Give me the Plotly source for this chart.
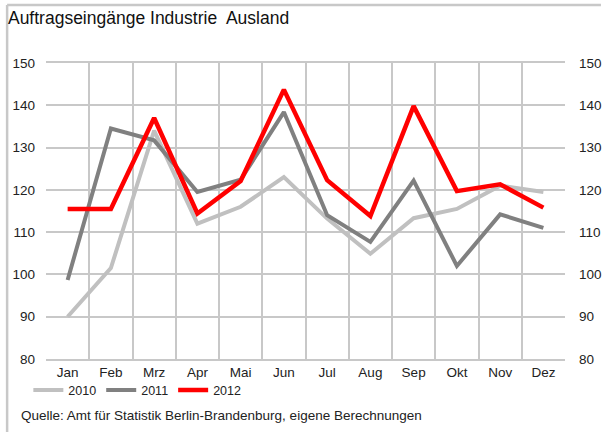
import plotly.graph_objects as go

# Data
monate = ["Jan", "Feb", "Mrz", "Apr", "Mai", "Jun", "Jul", "Aug", "Sep", "Okt", "Nov", "Dez"]
werte_2010 = [90.0, 101.5, 134.0, 112.0, 116.0, 123.0, 113.2, 104.9, 113.3, 115.5, 121.0, 119.5]
werte_2011 = [98.7, 134.5, 131.7, 119.5, 122.4, 138.4, 114.0, 107.7, 122.2, 102.0, 114.2, 111.0]
werte_2012 = [115.5, 115.5, 137.0, 114.4, 122.1, 143.7, 122.3, 113.8, 139.8, 119.7, 121.3, 115.8]

fig = go.Figure()

fig.add_trace(go.Scatter(x=monate, y=werte_2010, name="2010", mode="lines",
                         line=dict(color="#c0c0c0", width=4)))
fig.add_trace(go.Scatter(x=monate, y=werte_2011, name="2011", mode="lines",
                         line=dict(color="#808080", width=4)))
fig.add_trace(go.Scatter(x=monate, y=werte_2012, name="2012", mode="lines",
                         line=dict(color="#ff0000", width=4.5)))

# invisible trace for the right-hand axis
fig.add_trace(go.Scatter(x=monate, y=werte_2012, yaxis="y2", mode="lines",
                         line=dict(width=0), showlegend=False, hoverinfo="skip",
                         opacity=0))

fig.update_layout(
    width=614, height=432,
    margin=dict(l=43, r=37, t=63, b=73),
    paper_bgcolor="white", plot_bgcolor="white",
    font=dict(family="Liberation Sans, Arial, sans-serif", size=13, color="#222222"),
    title=dict(text="Auftragseingänge Industrie  Ausland", x=0.013, xanchor="left",
               y=0.958, yanchor="middle", font=dict(size=17.5, color="#111111")),
    xaxis=dict(type="category", tickson="boundaries", showgrid=True, gridcolor="#c8c8c8",
               gridwidth=1.5, ticks="", showline=True, linecolor="#c8c8c8", linewidth=1.5,
               mirror=True, tickfont=dict(size=13.5), range=[-0.5, 11.5]),
    yaxis=dict(range=[80, 150], dtick=10, showgrid=True, gridcolor="#c8c8c8",
               gridwidth=1.5, ticks="", zeroline=False, tickfont=dict(size=13.5),
               ticklabelstandoff=10),
    yaxis2=dict(range=[80, 150], dtick=10, overlaying="y", side="right", showgrid=False,
                ticks="", zeroline=False, tickfont=dict(size=13.5), ticklabelstandoff=13),
    legend=dict(orientation="h", x=-0.034, y=-0.055, xanchor="left", yanchor="top",
                font=dict(size=12.5), itemwidth=30, tracegroupgap=0,
                bgcolor="rgba(0,0,0,0)"),
    showlegend=True,
)

# Source note
fig.add_annotation(text="Quelle: Amt für Statistik Berlin-Brandenburg, eigene Berechnungen",
                   xref="paper", yref="paper", x=(15 - 43) / 534, y=-0.19, xanchor="left",
                   yanchor="middle", showarrow=False, font=dict(size=13.5, color="#222222"))

# Frame at top and left
pw, ph = 614 - 43 - 37, 432 - 63 - 73
fx = lambda px: (px - 43) / pw
fy = lambda py: (432 - 73 - py) / ph
fig.add_shape(type="line", xref="paper", yref="paper", x0=fx(3), x1=fx(614), y0=fy(5), y1=fy(5),
              line=dict(color="#c8c8c8", width=2.5))
fig.add_shape(type="line", xref="paper", yref="paper", x0=fx(3), x1=fx(3), y0=fy(5), y1=fy(432),
              line=dict(color="#c8c8c8", width=2.5))

fig.write_html("out.html", config={"displayModeBar": False},
               post_script="document.body.style.margin='0';")
